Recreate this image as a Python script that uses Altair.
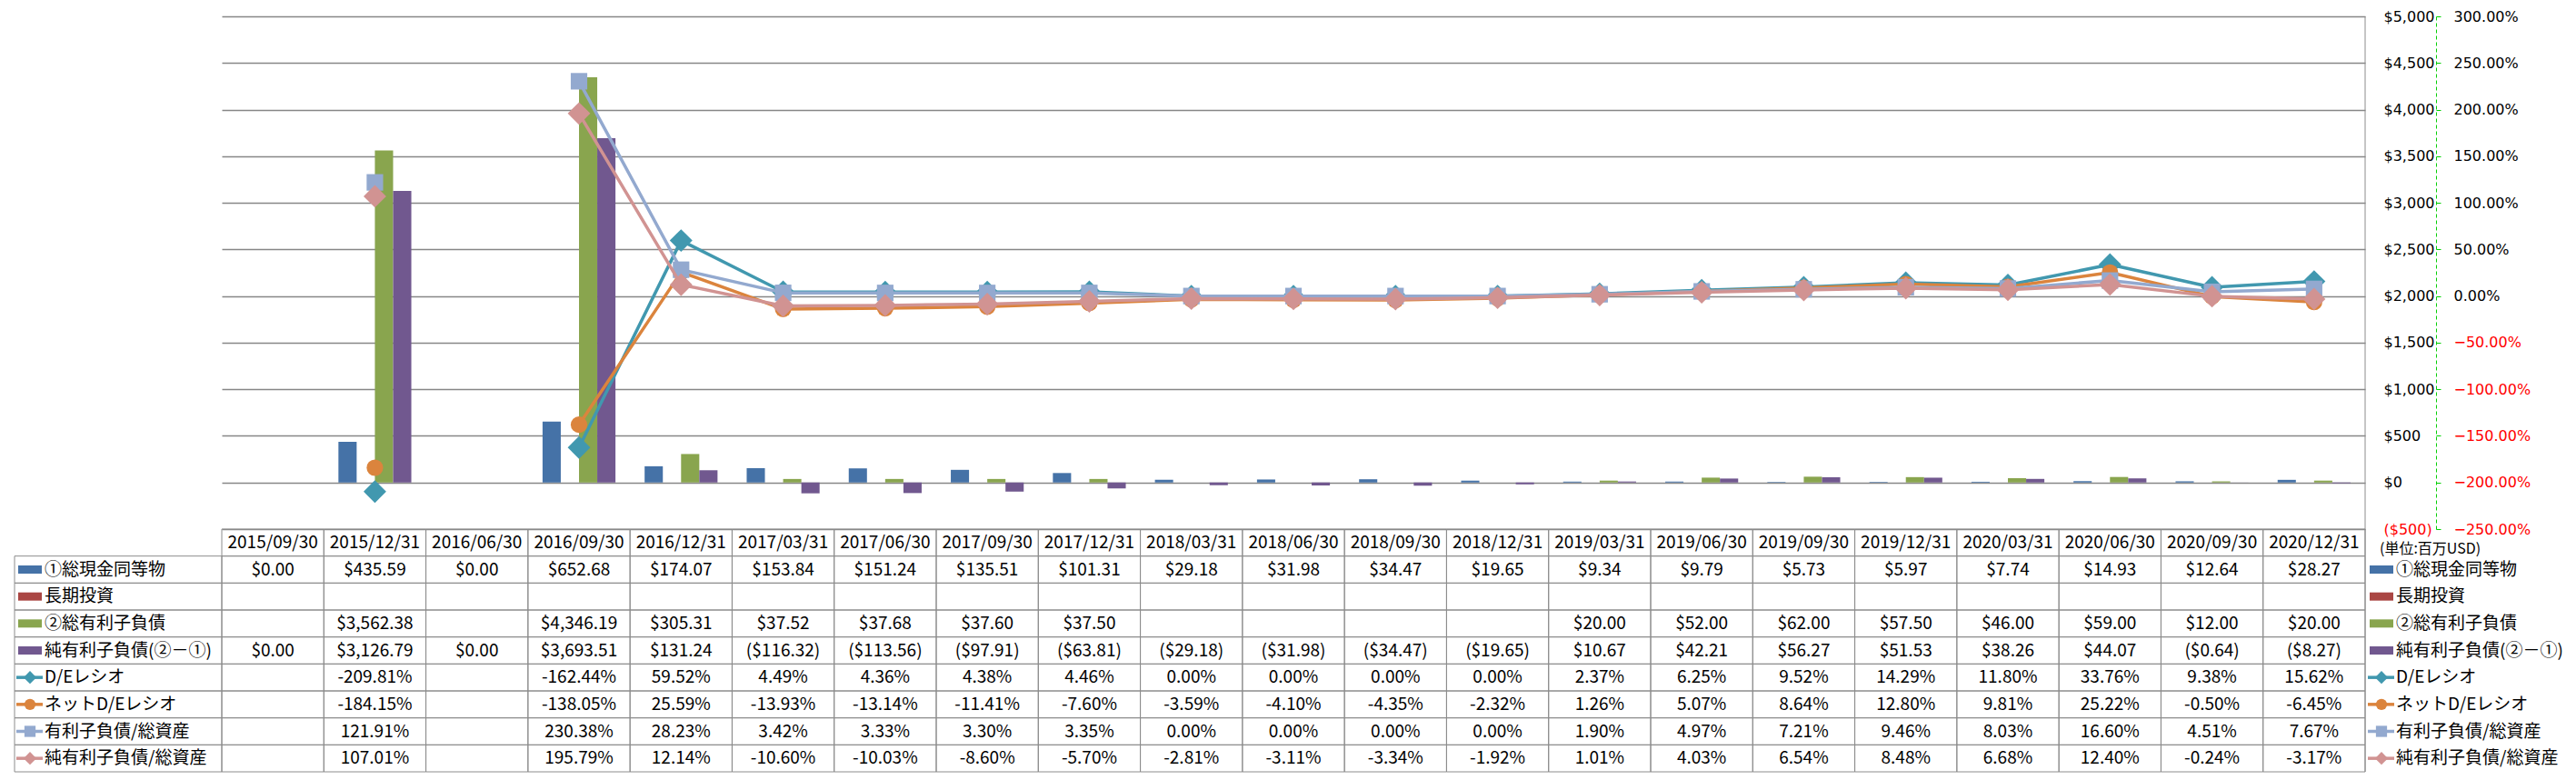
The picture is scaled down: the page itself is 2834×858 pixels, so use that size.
import altair as alt
import pandas as pd

# ---------------- data ----------------
dates = ["2015/09/30", "2015/12/31", "2016/06/30", "2016/09/30", "2016/12/31",
         "2017/03/31", "2017/06/30", "2017/09/30", "2017/12/31", "2018/03/31",
         "2018/06/30", "2018/09/30", "2018/12/31", "2019/03/31", "2019/06/30",
         "2019/09/30", "2019/12/31", "2020/03/31", "2020/06/30", "2020/09/30",
         "2020/12/31"]

cash = [0.00, 435.59, 0.00, 652.68, 174.07, 153.84, 151.24, 135.51, 101.31, 29.18,
        31.98, 34.47, 19.65, 9.34, 9.79, 5.73, 5.97, 7.74, 14.93, 12.64, 28.27]
long_term_investments = [None] * 21
total_debt = [None, 3562.38, None, 4346.19, 305.31, 37.52, 37.68, 37.60, 37.50, None,
              None, None, None, 20.00, 52.00, 62.00, 57.50, 46.00, 59.00, 12.00, 20.00]
net_debt = [0.00, 3126.79, 0.00, 3693.51, 131.24, -116.32, -113.56, -97.91, -63.81, -29.18,
            -31.98, -34.47, -19.65, 10.67, 42.21, 56.27, 51.53, 38.26, 44.07, -0.64, -8.27]

de_ratio = [None, -209.81, None, -162.44, 59.52, 4.49, 4.36, 4.38, 4.46, 0.00,
            0.00, 0.00, 0.00, 2.37, 6.25, 9.52, 14.29, 11.80, 33.76, 9.38, 15.62]
net_de_ratio = [None, -184.15, None, -138.05, 25.59, -13.93, -13.14, -11.41, -7.60, -3.59,
                -4.10, -4.35, -2.32, 1.26, 5.07, 8.64, 12.80, 9.81, 25.22, -0.50, -6.45]
debt_to_assets = [None, 121.91, None, 230.38, 28.23, 3.42, 3.33, 3.30, 3.35, 0.00,
                  0.00, 0.00, 0.00, 1.90, 4.97, 7.21, 9.46, 8.03, 16.60, 4.51, 7.67]
net_debt_to_assets = [None, 107.01, None, 195.79, 12.14, -10.60, -10.03, -8.60, -5.70, -2.81,
                      -3.11, -3.34, -1.92, 1.01, 4.03, 6.54, 8.48, 6.68, 12.40, -0.24, -3.17]

bar_names = ["①総現金同等物", "長期投資", "②総有利子負債", "純有利子負債(②－①)"]
line_names = ["D/Eレシオ", "ネットD/Eレシオ", "有利子負債/総資産", "純有利子負債/総資産"]
usd_ticks = [-500, 0, 500, 1000, 1500, 2000, 2500, 3000, 3500, 4000, 4500, 5000]
pct_ticks = [-250, -200, -150, -100, -50, 0, 50, 100, 150, 200, 250, 300]
unit_label = "(単位:百万USD)"

# ---------------- style ----------------
bar_colors = ["#4572A7", "#AA4643", "#89A54E", "#71588F"]
line_colors = ["#4198AF", "#DB843D", "#93A9CF", "#D19392"]
line_shapes = ["diamond", "circle", "square", "diamond"]
line_sizes = [620, 330, 330, 620]
legend_sizes = [200, 150, 150, 200]
BAR_PATH = "M-1.3,-0.45L1.3,-0.45L1.3,0.45L-1.3,0.45Z"

W, H = 2358, 564
TABLE_H = 267
N_ROWS = 9
GRID = "#868686"
BORDER = "#8C8C8C"
FONT = "Noto Sans CJK JP"
AXFONT = "DejaVu Sans"
GREEN = "#00D000"


def fmt_usd(v):
    return "($" + f"{-v:,.2f}" + ")" if v < 0 else "$" + f"{v:,.2f}"


def fmt_pct(v):
    return f"{v:.2f}%"


x_enc = alt.X("date:N", scale=alt.Scale(domain=dates, paddingInner=0, paddingOuter=0), axis=None)
neg_red = {"condition": {"test": "datum.value < 0", "value": "#FF0000"}, "value": "#000000"}

# ---------------- bars ----------------
bar_series = [cash, long_term_investments, total_debt, net_debt]
bar_rows = [{"date": d, "series": n, "value": v}
            for n, vals in zip(bar_names, bar_series)
            for d, v in zip(dates, vals) if v is not None]

usd_axis = alt.Axis(orient="right", values=usd_ticks,
                    labelExpr="datum.value < 0 ? '($' + format(-datum.value, ',') + ')' : '$' + format(datum.value, ',')",
                    labelColor=neg_red, labelFont=AXFONT, labelFontSize=16, labelPadding=20,
                    labelAlign="left", labelBaseline="middle", labelFlush=False, labelOverlap=False,
                    domain=False, ticks=False, tickSize=0, grid=True, gridColor=GRID, gridWidth=1.3,
                    title=None)

bars = alt.Chart(pd.DataFrame(bar_rows)).mark_bar(opacity=1).encode(
    x=x_enc,
    xOffset=alt.XOffset("series:N", scale=alt.Scale(domain=bar_names, paddingInner=0, paddingOuter=0.8)),
    y=alt.Y("value:Q", stack=None, scale=alt.Scale(domain=[-500, 5000], nice=False, zero=False), axis=usd_axis),
    y2=alt.datum(0),
    color=alt.Color("series:N", scale=alt.Scale(domain=bar_names, range=bar_colors), legend=None),
)

# ---------------- lines ----------------
pct_axis = alt.Axis(orient="right", offset=78, values=pct_ticks,
                    labelExpr="format(datum.value, '.2f') + '%'",
                    labelColor=neg_red, labelFont=AXFONT, labelFontSize=16, labelPadding=14,
                    labelAlign="left", labelBaseline="middle", labelFlush=False, labelOverlap=False,
                    domain=True, domainColor=GREEN, domainDash=[4, 3], domainWidth=1,
                    ticks=True, tickColor=GREEN, tickSize=5, tickWidth=1, grid=False, title=None)
pct_scale = alt.Scale(domain=[-250, 300], nice=False, zero=False)

line_series = [de_ratio, net_de_ratio, debt_to_assets, net_debt_to_assets]
line_layers = []
for name, vals, col, shp, sz in zip(line_names, line_series, line_colors, line_shapes, line_sizes):
    rows = []
    seg = 0
    prev = None
    for d, v in zip(dates, vals):
        if v is None:
            if prev is not None:
                seg += 1
            prev = None
            continue
        rows.append({"date": d, "pct": v, "seg": seg, "series": name})
        prev = v
    base = alt.Chart(pd.DataFrame(rows)).encode(
        x=x_enc,
        y=alt.Y("pct:Q", scale=pct_scale, axis=pct_axis),
    )
    line_layers.append(base.mark_line(color=col, strokeWidth=3.5, strokeJoin="round").encode(detail="seg:N"))
    line_layers.append(base.mark_point(shape=shp, size=sz, filled=True, color=col, opacity=1,
                                       strokeWidth=1))
lines = alt.layer(*line_layers)

# ---------------- table ----------------
tscale = alt.Scale(domain=[0, N_ROWS], range=[H, H + TABLE_H], nice=False, zero=False)

table_series = [(fmt_usd, cash), (fmt_usd, long_term_investments), (fmt_usd, total_debt),
                (fmt_usd, net_debt), (fmt_pct, de_ratio), (fmt_pct, net_de_ratio),
                (fmt_pct, debt_to_assets), (fmt_pct, net_debt_to_assets)]

text_rows = [{"date": d, "rc": 0.5, "txt": d} for d in dates]
for r, (fmt, vals) in enumerate(table_series, start=1):
    for d, v in zip(dates, vals):
        if v is not None:
            text_rows.append({"date": d, "rc": r + 0.5, "txt": fmt(v)})

cell_rows = [{"date": d, "r0": r, "r1": r + 1} for r in range(N_ROWS) for d in dates]
label_cell_rows = [{"r0": r, "r1": r + 1} for r in range(1, N_ROWS)]

all_names = bar_names + line_names
legend_rows = []
for i, n in enumerate(all_names):
    if i < 4:
        legend_rows.append({"name": n, "rc": i + 1.5, "color": bar_colors[i], "shape": BAR_PATH,
                            "sz": 400, "kind": "bar"})
    else:
        j = i - 4
        legend_rows.append({"name": n, "rc": i + 1.5, "color": line_colors[j], "shape": line_shapes[j],
                            "sz": legend_sizes[j], "kind": "line"})
legend_df = pd.DataFrame(legend_rows)
line_legend_df = legend_df[legend_df["kind"] == "line"]

cells = alt.Chart(pd.DataFrame(cell_rows)).mark_rect(fill="transparent", stroke=BORDER, strokeWidth=1).encode(
    x=x_enc,
    y=alt.Y("r0:Q", scale=tscale, axis=None),
    y2="r1:Q",
)
label_cells = alt.Chart(pd.DataFrame(label_cell_rows)).mark_rect(fill="transparent", stroke=BORDER,
                                                                  strokeWidth=1).encode(
    x=alt.value(-228), x2=alt.value(0),
    y=alt.Y("r0:Q", scale=tscale, axis=None),
    y2="r1:Q",
)
texts = alt.Chart(pd.DataFrame(text_rows)).mark_text(font=FONT, fontSize=19, align="center",
                                                      baseline="middle", color="#000000").encode(
    x=x_enc,
    y=alt.Y("rc:Q", scale=tscale, axis=None),
    text="txt:N",
)


def legend_block(x_text, x_sym, x_l1, x_l2):
    lab = alt.Chart(legend_df).mark_text(font=FONT, fontSize=19, align="left", baseline="middle",
                                         color="#000000").encode(
        x=alt.value(x_text), y=alt.Y("rc:Q", scale=tscale, axis=None), text="name:N")
    ln = alt.Chart(line_legend_df).mark_rule(strokeWidth=3.5).encode(
        x=alt.value(x_l1), x2=alt.value(x_l2), y=alt.Y("rc:Q", scale=tscale, axis=None),
        color=alt.Color("color:N", scale=None, legend=None))
    sym = alt.Chart(legend_df).mark_point(filled=True, opacity=1).encode(
        x=alt.value(x_sym), y=alt.Y("rc:Q", scale=tscale, axis=None),
        color=alt.Color("color:N", scale=None, legend=None),
        shape=alt.Shape("shape:N", scale=None, legend=None),
        size=alt.Size("sz:Q", scale=None, legend=None))
    return [ln, sym, lab]


right_border = alt.Chart(pd.DataFrame({"k": [0]})).mark_rule(color=BORDER, strokeWidth=1).encode(
    x=alt.value(W), y=alt.value(0), y2=alt.value(H + TABLE_H))
unit_text = alt.Chart(pd.DataFrame({"t": [unit_label]})).mark_text(
    font=FONT, fontSize=16, align="left", baseline="middle", color="#000000").encode(
    x=alt.value(2374), y=alt.value(H + 22), text="t:N")

table = alt.layer(cells, label_cells, texts,
                  *legend_block(-195, -211, -226, -197),
                  *legend_block(2392, 2376, 2361, 2390),
                  right_border, unit_text)

chart = alt.layer(bars, lines, table).resolve_scale(
    y="independent", color="independent", shape="independent", size="independent"
).properties(
    width=W, height=H,
    autosize=alt.AutoSizeParams(type="none"),
    padding={"left": 236, "top": 10, "right": 224, "bottom": 268},
).configure_view(strokeWidth=0)

chart.save("out.html", embed_options={"renderer": "svg", "actions": False})
